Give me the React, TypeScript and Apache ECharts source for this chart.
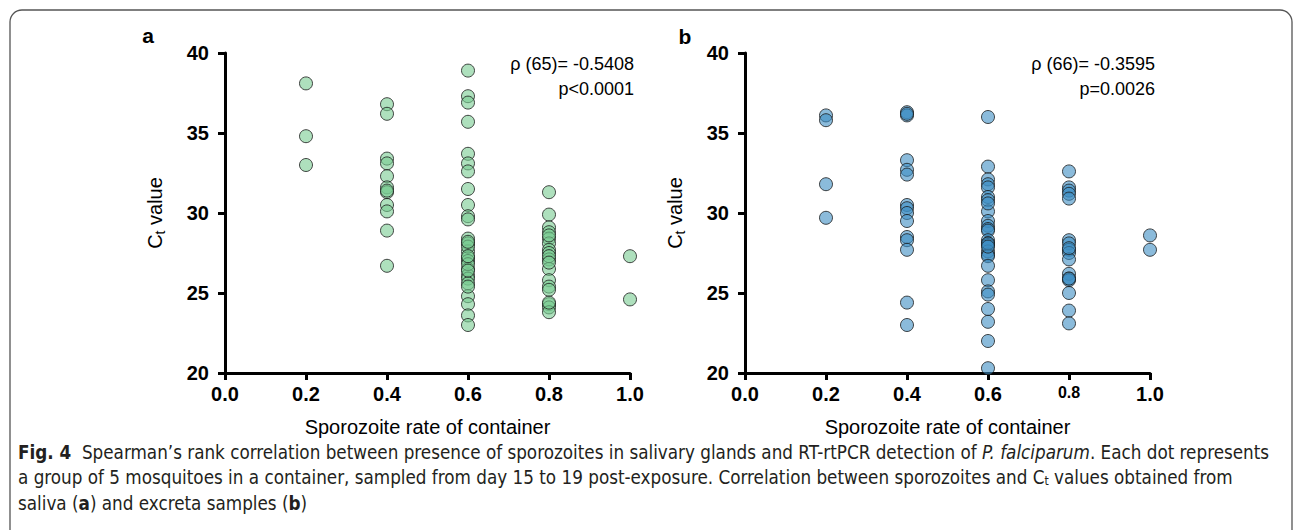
import React, { useEffect, useRef } from "react";
import * as echarts from "echarts";

// Panel a (saliva): Ct values per sporozoite rate column
const aRate02 = [38.1, 34.8, 33.0];
const aRate04 = [36.8, 36.2, 33.4, 33.1, 32.3, 31.6, 31.3, 30.5, 30.1, 28.9, 26.7, 31.4];
const aRate06 = [38.9, 37.3, 36.9, 35.7, 33.7, 33.1, 32.6, 31.5, 30.5, 29.8, 29.6, 28.4, 28.1, 27.6, 27.2, 27.0, 26.5, 26.1, 25.9, 25.6, 24.8, 24.3, 23.6, 23.0, 27.9, 26.8, 26.4, 27.3, 25.4, 28.2];
const aRate08 = [31.3, 29.9, 29.1, 28.8, 28.4, 28.1, 27.7, 27.5, 27.1, 26.5, 25.8, 25.4, 25.2, 24.3, 24.1, 23.8, 27.3, 26.9, 24.4, 28.6];
const aRate10 = [27.3, 24.6];

// Panel b (excreta)
const bRate02 = [36.1, 35.8, 31.8, 29.7];
const bRate04 = [36.3, 36.1, 33.3, 32.7, 32.4, 30.5, 30.3, 30.0, 29.5, 28.5, 28.3, 27.7, 24.4, 23.0, 36.2];
const bRate06 = [36.0, 32.9, 32.1, 31.8, 31.6, 31.0, 30.8, 30.1, 29.5, 29.2, 29.0, 28.9, 28.3, 28.1, 28.0, 27.6, 27.4, 27.3, 26.7, 25.8, 25.1, 24.9, 24.0, 23.2, 22.0, 20.3, 28.1, 27.9, 30.6];
const bRate08 = [32.6, 31.6, 31.4, 31.2, 30.9, 28.3, 28.1, 27.7, 27.5, 27.1, 26.2, 25.9, 25.8, 25.0, 23.9, 23.1, 27.8, 25.9];
const bRate10 = [28.6, 27.7];

const rates = [0.2, 0.4, 0.6, 0.8, 1.0];
const aColumns = [aRate02, aRate04, aRate06, aRate08, aRate10];
const bColumns = [bRate02, bRate04, bRate06, bRate08, bRate10];

const annotA = ["ρ (65)= -0.5408", "p<0.0001"];
const annotB = ["ρ (66)= -0.3595", "p=0.0026"];

const captionLines = [
  "{b|Fig. 4}  Spearman’s rank correlation between presence of sporozoites in salivary glands and RT-rtPCR detection of {i|P. falciparum}. Each dot represents",
  "a group of 5 mosquitoes in a container, sampled from day 15 to 19 post-exposure. Correlation between sporozoites and C{s|t} values obtained from",
  "saliva ({b|a}) and excreta samples ({b|b})",
];

const toPoints = (cols: number[][]) =>
  cols.flatMap((col, i) => col.map((v) => [rates[i], v]));

const FONT = "'Liberation Sans', Arial, Helvetica, sans-serif";

export default function App() {
  const ref = useRef<HTMLDivElement>(null);
  useEffect(() => {
    if (!ref.current) return;
    const chart = echarts.init(ref.current, null, { renderer: "svg" });

    const makeX = (gridIndex: number, small08: boolean) => ({
      type: "value",
      gridIndex,
      min: 0,
      max: 1,
      interval: 0.2,
      splitLine: { show: false },
      axisLine: { show: true, onZero: false, lineStyle: { color: "#000", width: 3 } },
      axisTick: { show: true, length: 7, lineStyle: { color: "#000", width: 3 } },
      axisLabel: {
        margin: 11,
        color: "#000",
        fontFamily: FONT,
        fontWeight: "bold",
        fontSize: 20,
        formatter: (v: number) => {
          const t = v.toFixed(1);
          return small08 && t === "0.8" ? "{sm|" + t + "}" : t;
        },
        rich: { sm: { fontSize: 16, fontWeight: "bold", fontFamily: FONT, color: "#000" } },
      },
      name: "Sporozoite rate of container",
      nameLocation: "middle",
      nameGap: 44,
      nameTextStyle: { color: "#000", fontFamily: FONT, fontSize: 20 },
    });

    const makeY = (gridIndex: number) => ({
      type: "value",
      gridIndex,
      min: 20,
      max: 40,
      interval: 5,
      splitLine: { show: false },
      axisLine: { show: true, onZero: false, lineStyle: { color: "#000", width: 3 } },
      axisTick: { show: true, length: 7, lineStyle: { color: "#000", width: 3 } },
      axisLabel: {
        margin: 16,
        color: "#000",
        fontFamily: FONT,
        fontWeight: "bold",
        fontSize: 20,
      },
      name: "{c|C}{s|t}{c| value}",
      nameLocation: "middle",
      nameGap: 58,
      nameRotate: 90,
      nameTextStyle: {
        color: "#000",
        fontFamily: FONT,
        fontSize: 20,
        rich: {
          c: { fontSize: 20, fontFamily: FONT, color: "#000", lineHeight: 24 },
          s: { fontSize: 14, fontFamily: FONT, color: "#000", verticalAlign: "bottom", lineHeight: 14 },
        },
      },
    });

    const text = (x: number, y: number, t: string, extra: any = {}) => ({
      type: "text",
      x,
      y,
      style: {
        text: t,
        fill: "#000",
        font: `18px ${FONT}`,
        textAlign: "right",
        textVerticalAlign: "middle",
        ...extra,
      },
    });

    const capFont = "'DejaVu Sans Condensed', 'DejaVu Sans', sans-serif";
    const capSize = 18.7;
    const captionRich = {
      b: { fontWeight: "bold", fontFamily: capFont, fontSize: capSize, fill: "#231f20", lineHeight: 22 },
      i: { fontStyle: "italic", fontFamily: capFont, fontSize: capSize, fill: "#231f20", lineHeight: 22 },
      s: { fontFamily: capFont, fontSize: 12, fill: "#231f20", verticalAlign: "bottom", lineHeight: 13 },
    };

    chart.setOption({
      animation: false,
      backgroundColor: "#fff",
      grid: [
        { left: 225, right: 665, top: 53, bottom: 157 },
        { left: 745, right: 145, top: 53, bottom: 157 },
      ],
      xAxis: [makeX(0, false), makeX(1, true)],
      yAxis: [makeY(0), makeY(1)],
      series: [
        {
          type: "scatter",
          xAxisIndex: 0,
          yAxisIndex: 0,
          symbolSize: 13,
          data: toPoints(aColumns),
          itemStyle: { color: "rgba(120,203,145,0.75)", borderColor: "#1a1a1a", borderWidth: 1 },
        },
        {
          type: "scatter",
          xAxisIndex: 1,
          yAxisIndex: 1,
          symbolSize: 13,
          data: toPoints(bColumns),
          itemStyle: { color: "rgba(61,141,195,0.75)", borderColor: "#1a1a1a", borderWidth: 1 },
        },
      ],
      graphic: [
        {
          type: "rect",
          shape: { x: 10, y: 10, width: 1282, height: 540, r: 12 },
          style: { fill: "none", stroke: "#555", lineWidth: 1.3 },
          silent: true,
        },
        text(148, 35, "a", { font: `bold 21px ${FONT}`, textAlign: "center" }),
        text(685, 36, "b", { font: `bold 21px ${FONT}`, textAlign: "center" }),
        text(634, 64, annotA[0]),
        text(634, 89, annotA[1]),
        text(1155, 64, annotB[0]),
        text(1155, 89, annotB[1]),
        ...captionLines.map((l, i) => ({
          type: "text",
          x: 18,
          y: 452 + i * 25.5,
          style: {
            text: l,
            fill: "#231f20",
            font: `${capSize}px ${capFont}`,
            textAlign: "left",
            textVerticalAlign: "middle",
            rich: captionRich,
          },
        })),
      ],
    });
    return () => chart.dispose();
  }, []);
  return (
    <div
      ref={ref}
      style={{ position: "fixed", left: 0, top: 0, width: 1295, height: 530, background: "#fff" }}
    />
  );
}
